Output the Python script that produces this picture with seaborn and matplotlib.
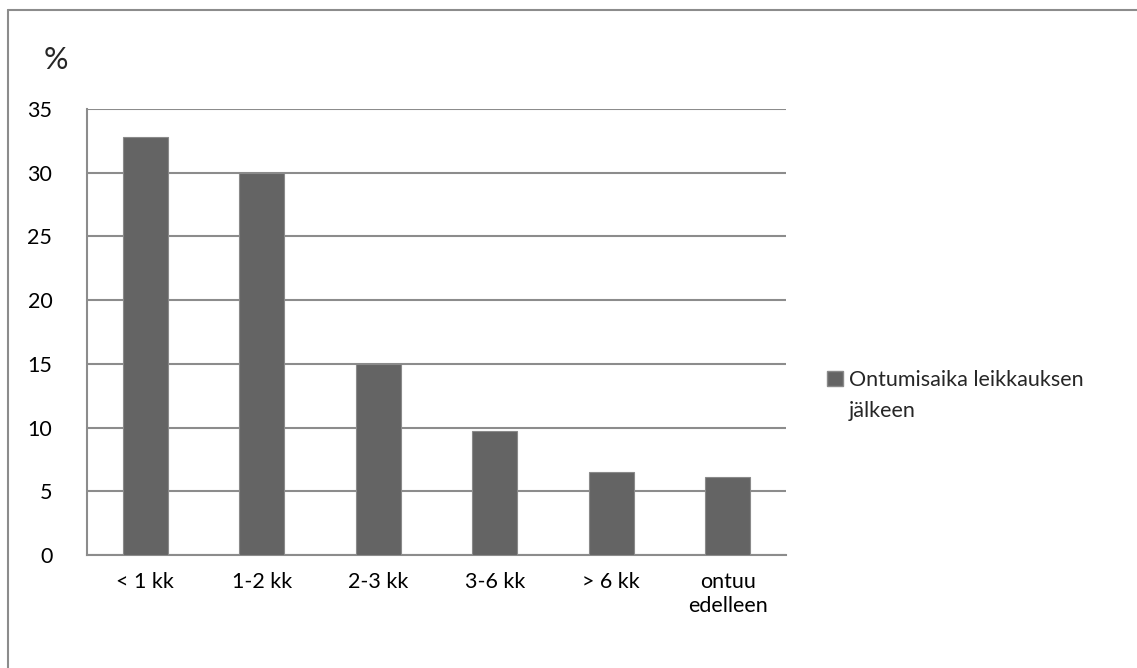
import matplotlib
matplotlib.use("Agg")
import matplotlib.pyplot as plt
import seaborn as sns
import pandas as pd
from matplotlib.patches import Patch
from matplotlib.lines import Line2D

categories = ["< 1 kk", "1-2 kk", "2-3 kk", "3-6 kk", "> 6 kk", "ontuu\nedelleen"]
values = [32.8, 30.0, 15.0, 9.7, 6.5, 6.1]
series_name_lines = ["Ontumisaika leikkauksen", "jälkeen"]
y_ticks = [0, 5, 10, 15, 20, 25, 30, 35]

sns.set_theme(style="white")
plt.rcParams['font.family'] = ['Lato', 'DejaVu Sans']

W, H = 1137, 668
fig = plt.figure(figsize=(W / 100, H / 100), dpi=100)
left, right, top, bottom = 87, 786, 109, 555
ax = fig.add_axes([left / W, 1 - bottom / H, (right - left) / W, (bottom - top) / H])

df = pd.DataFrame({"cat": categories, "val": values})
sns.barplot(data=df, x="cat", y="val", ax=ax, color="#646464", width=0.39,
            saturation=1, edgecolor="#8a8a8a", linewidth=0.8, zorder=3)

ax.set_ylim(0, 35)
ax.set_yticks(y_ticks)
ax.set_xlim(-0.5, len(categories) - 0.5)
ax.yaxis.grid(True, color="#8c8c8c", linewidth=1.5, zorder=0)
ax.set_axisbelow(True)
for s in ["top", "right"]:
    ax.spines[s].set_visible(False)
for s in ["left", "bottom"]:
    ax.spines[s].set_color("#8c8c8c")
    ax.spines[s].set_linewidth(1.5)
ax.set_xlabel("")
ax.set_ylabel("")
ax.tick_params(axis="y", length=0, pad=25, labelsize=15.5, labelcolor="black")
ax.tick_params(axis="x", length=0, pad=12, labelsize=15.5, labelcolor="black")
for lbl in ax.get_xticklabels():
    lbl.set_linespacing(1.25)

fig.text(56 / W, 1 - 60 / H, "%", fontsize=22, ha="center", va="center")

handles = [Patch(facecolor="#646464", edgecolor="#8a8a8a", label=series_name_lines[0])]
fig.legend(handles=handles, loc="center left", bbox_to_anchor=(827 / W, 1 - 380 / H),
           frameon=False, fontsize=15.5, handlelength=0.72, handleheight=0.72,
           handletextpad=0.3, borderaxespad=0, borderpad=0)
fig.text(849 / W, 1 - 411 / H, series_name_lines[1], fontsize=15.5, ha="left", va="center")

# outer chart border (top and left only visible)
fig.add_artist(Line2D([7.5 / W, 1.0], [1 - 10 / H, 1 - 10 / H], transform=fig.transFigure,
                      color="#8c8c8c", linewidth=1.5))
fig.add_artist(Line2D([7.5 / W, 7.5 / W], [0.0, 1 - 10 / H], transform=fig.transFigure,
                      color="#8c8c8c", linewidth=1.5))

fig.savefig("out.png", dpi=100)
